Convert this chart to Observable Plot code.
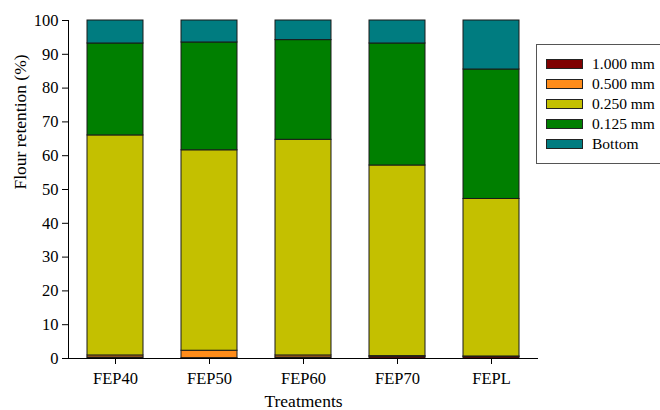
<!DOCTYPE html>
<html>
<head>
<meta charset="utf-8">
<script src="https://cdn.jsdelivr.net/npm/d3@7"></script>
<script src="https://cdn.jsdelivr.net/npm/@observablehq/plot@0.6"></script>
<style>
  html, body { margin: 0; padding: 0; background: #fff; }
  #wrap { position: relative; width: 660px; height: 410px; overflow: hidden; font-family: "Liberation Serif", "DejaVu Serif", serif; }
  #legend { position: absolute; left: 536px; top: 44px; width: 140px; height: 120px; border: 1px solid #555; box-sizing: border-box; background: #fff; }
  .row { position: absolute; left: 9px; height: 18px; display: flex; align-items: center; font-size: 15.5px; color: #000; white-space: nowrap; }
  .sw { width: 35px; height: 8px; border: 1px solid #222; margin-right: 9px; }
</style>
</head>
<body>
<div id="wrap"></div>
<script>
const treatments = ["FEP40", "FEP50", "FEP60", "FEP70", "FEPL"];
const fractions = ["1.000 mm", "0.500 mm", "0.250 mm", "0.125 mm", "Bottom"];
const colors = ["#7f0000", "#ff8c1a", "#c4c000", "#007f00", "#007c80"];
// percentage of flour retained on each sieve, per treatment
const v1000 = [0.3, 0.1, 0.3, 0.5, 0.5];
const v0500 = [0.6, 2.2, 0.6, 0.2, 0.1];
const v0250 = [65.1, 59.3, 63.8, 56.4, 46.6];
const v0125 = [27.2, 31.9, 29.5, 36.1, 38.3];
const vBottom = [6.8, 6.5, 5.8, 6.8, 14.5];
const yTicks = [0, 10, 20, 30, 40, 50, 60, 70, 80, 90, 100];

const series = [v1000, v0500, v0250, v0125, vBottom];
const data = [];
fractions.forEach((f, i) => treatments.forEach((t, j) => data.push({treatment: t, fraction: f, value: series[i][j]})));

const chart = Plot.plot({
  width: 660,
  height: 410,
  marginLeft: 68,
  marginRight: 122,
  marginTop: 20,
  marginBottom: 52,
  style: {fontFamily: "'Liberation Serif', serif", fontSize: "16px", color: "#000", background: "#fff"},
  x: {domain: treatments, paddingInner: 0.4, paddingOuter: 0.2, label: null},
  y: {domain: [0, 100], label: null},
  color: {domain: fractions, range: colors},
  marks: [
    Plot.barY(data, {x: "treatment", y: "value", fill: "fraction", stroke: "#1a1a1a", strokeWidth: 1, order: fractions}),
    Plot.axisY({ticks: yTicks, tickSize: 6, tickPadding: 4, fontSize: 16.5, label: null}),
    Plot.axisX({tickSize: 6, tickPadding: 8, fontSize: 16.5, label: null}),
    Plot.ruleY([0], {stroke: "#000"}),
    Plot.frame({anchor: "left", stroke: "#000"}),
    Plot.text(["Treatments"], {frameAnchor: "bottom", lineAnchor: "middle", dy: 43, fontSize: 17.5, fill: "#000"}),
    Plot.text(["Flour retention (%)"], {frameAnchor: "left", dx: -48, rotate: -90, fontSize: 17.5, fill: "#000"})
  ]
});

const wrap = document.getElementById("wrap");
wrap.appendChild(chart);
const legend = document.createElement("div");
legend.id = "legend";
fractions.forEach((f, i) => {
  const row = document.createElement("div");
  row.className = "row";
  row.style.top = (10 + i * 20) + "px";
  const sw = document.createElement("div");
  sw.className = "sw";
  sw.style.background = colors[i];
  const lab = document.createElement("span");
  lab.textContent = f;
  row.appendChild(sw);
  row.appendChild(lab);
  legend.appendChild(row);
});
wrap.appendChild(legend);
</script>
</body>
</html>
